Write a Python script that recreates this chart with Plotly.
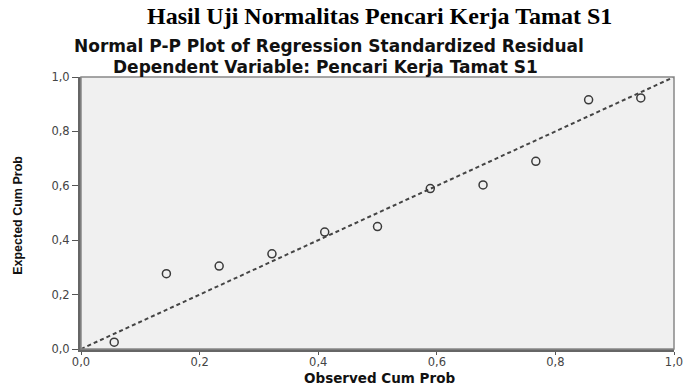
import plotly.graph_objects as go

observed = [0.056, 0.144, 0.233, 0.322, 0.411, 0.500, 0.589, 0.678, 0.767, 0.856, 0.944]
expected = [0.025, 0.277, 0.305, 0.350, 0.430, 0.450, 0.590, 0.603, 0.690, 0.916, 0.923]
ref_line = [0.0, 1.0]
tick_vals = [0.0, 0.2, 0.4, 0.6, 0.8, 1.0]
tick_text = ["0,0", "0,2", "0,4", "0,6", "0,8", "1,0"]

fig = go.Figure()
fig.add_trace(go.Scatter(x=ref_line, y=ref_line, mode="lines",
                         line=dict(color="#444444", width=2, dash="4px,3px"),
                         hoverinfo="skip", showlegend=False))
fig.add_trace(go.Scatter(x=observed, y=expected, mode="markers",
                         marker=dict(symbol="circle-open", size=8, color="#3a3a3a",
                                     line=dict(width=1.5, color="#3a3a3a")),
                         showlegend=False))

axis_font = dict(family="DejaVu Sans", size=11.5, color="#444444")
fig.update_layout(
    width=695, height=386,
    margin=dict(l=81, r=13, t=77, b=37),
    paper_bgcolor="white", plot_bgcolor="#f0f0f0",
    xaxis=dict(range=[0, 1], tickvals=tick_vals, ticktext=tick_text,
               showgrid=False, zeroline=False, showline=True, linecolor="#666666",
               linewidth=3, ticks="outside", ticklen=3, tickcolor="#555555",
               tickfont=axis_font, ticklabelstandoff=-3),
    yaxis=dict(range=[0, 1], tickvals=tick_vals, ticktext=tick_text,
               showgrid=False, zeroline=False, showline=True, linecolor="#666666",
               linewidth=3, ticks="outside", ticklen=6, tickcolor="#555555",
               tickfont=axis_font),
    shapes=[dict(type="rect", xref="paper", yref="paper", x0=0, y0=0, x1=1, y1=1,
                 line=dict(color="#888888", width=1.5), layer="above")],
    annotations=[
        dict(text="<b>Hasil Uji Normalitas Pencari Kerja Tamat S1</b>", x=384, y=16,
             showarrow=False,
             font=dict(family="Liberation Serif", size=24, color="black")),
        dict(text="<b>Normal P-P Plot of Regression Standardized Residual</b>",
             x=332, y=46, showarrow=False,
             font=dict(family="DejaVu Sans", size=17, color="#111111")),
        dict(text="<b>Dependent Variable: Pencari Kerja Tamat S1</b>",
             x=329, y=67, showarrow=False,
             font=dict(family="DejaVu Sans", size=17, color="#111111")),
        dict(text="<b>Observed Cum Prob</b>", x=384, y=378, showarrow=False,
             font=dict(family="DejaVu Sans", size=13.5, color="#111111")),
        dict(text="<b>Expected Cum Prob</b>", x=17, y=215, showarrow=False, textangle=-90,
             font=dict(family="Liberation Sans", size=12.5, color="#111111")),
    ],
)
for a in fig.layout.annotations:
    px, py = a.x, a.y
    a.x = (px - 81) / (695 - 81 - 13)
    a.y = 1 - (py - 77) / (386 - 77 - 37)
    a.xref = "paper"
    a.yref = "paper"
    a.xanchor = "center"
    a.yanchor = "middle"

fig.write_html("out.html")
